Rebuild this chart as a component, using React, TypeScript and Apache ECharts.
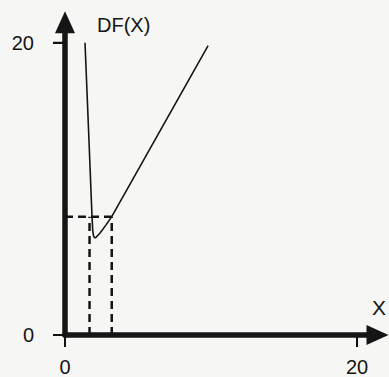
import React, { useEffect, useRef } from "react";
import * as echarts from "echarts";

// DF(X) curve: steep drop, rounded shallow minimum, then a straight rise
const curveX = [1.37, 1.61, 1.85, 1.9, 1.95, 2.02, 2.1, 2.4, 2.8, 3.2, 9.8];
const curveY = [20.0, 14.1, 8.1, 7.15, 6.8, 6.66, 6.66, 6.98, 7.52, 8.1, 19.8];

// dashed guide lines: level DF = 8.1, crossed at two X values
const guideLevel = 8.1;
const guideX = [1.68, 3.2];

const tickValues = [0, 20];
const axisMax = 21.4;

const FONT = "'Liberation Sans', Arial, sans-serif";
const INK = "#151515";
const TICK_LEN = 12;

export default function App() {
  const ref = useRef<HTMLDivElement>(null);

  useEffect(() => {
    if (!ref.current) return;
    const chart = echarts.init(ref.current, null, { renderer: "svg" });

    const curve = curveX.map((x, i) => [x, curveY[i]]);
    const dashStyle = { color: INK, width: 2.5, type: [8, 5] as number[] };

    const guides = [
      [[0, guideLevel], [guideX[1], guideLevel]],
      [[guideX[0], 0], [guideX[0], guideLevel]],
      [[guideX[1], 0], [guideX[1], guideLevel]],
    ].map((d) => ({
      type: "line" as const,
      data: d,
      symbol: "none",
      lineStyle: dashStyle,
      z: 2,
    }));

    // axes: thick line with a filled arrowhead, ticks, name and labels
    const mainAxis = {
      type: "value" as const,
      min: 0,
      max: axisMax,
      splitLine: { show: false },
      axisTick: {
        show: true,
        customValues: tickValues,
        length: TICK_LEN,
        lineStyle: { color: "#111111", width: 2 },
      },
      axisLine: {
        show: true,
        symbol: ["none", "triangle"],
        symbolSize: [20, 22],
        lineStyle: { color: INK, width: 5.5 },
      },
    };

    chart.setOption({
      animation: false,
      grid: { left: 65, right: 11.5, top: 22.3, bottom: 39 },
      xAxis: {
        ...mainAxis,
        name: "X",
        nameLocation: "end",
        nameGap: 1.5,
        nameTextStyle: {
          fontFamily: FONT,
          fontSize: 21,
          color: INK,
          align: "center",
          verticalAlign: "bottom",
          padding: [0, 0, 17, 0],
        },
        axisLabel: {
          customValues: tickValues,
          margin: 22,
          fontFamily: FONT,
          fontSize: 20,
          color: INK,
        },
      },
      yAxis: {
        ...mainAxis,
        name: "DF(X)",
        nameLocation: "end",
        nameGap: -3,
        nameTextStyle: {
          fontFamily: FONT,
          fontSize: 20,
          color: INK,
          align: "left",
          verticalAlign: "middle",
          padding: [0, 0, 0, 32],
        },
        axisLabel: {
          customValues: tickValues,
          margin: 31,
          fontFamily: FONT,
          fontSize: 20,
          color: INK,
        },
      },
      series: [
        {
          type: "line",
          data: curve,
          symbol: "none",
          lineStyle: { color: INK, width: 1.6 },
          z: 3,
        },
        ...guides,
      ],
    });

    // the same tick marks again as plain lines, placed through the axes' scales
    const finder = { xAxisIndex: 0, yAxisIndex: 0 };
    const tickStyle = { stroke: "#111111", lineWidth: 2 };
    const ticks: any[] = [];
    tickValues.forEach((v) => {
      const px = chart.convertToPixel(finder, [v, 0]) as number[];
      const py = chart.convertToPixel(finder, [0, v]) as number[];
      if (px && isFinite(px[0]) && isFinite(px[1])) {
        ticks.push({
          type: "line",
          shape: { x1: px[0], y1: px[1], x2: px[0], y2: px[1] + TICK_LEN },
          style: tickStyle,
          z: 10,
        });
      }
      if (py && isFinite(py[0]) && isFinite(py[1])) {
        ticks.push({
          type: "line",
          shape: { x1: py[0] - TICK_LEN, y1: py[1], x2: py[0], y2: py[1] },
          style: tickStyle,
          z: 10,
        });
      }
    });
    if (ticks.length) chart.setOption({ graphic: ticks });

    return () => chart.dispose();
  }, []);

  return (
    <div
      ref={ref}
      style={{
        position: "fixed",
        left: 0,
        top: 0,
        width: 389,
        height: 377,
        background: "#f6f6f4",
      }}
    />
  );
}
